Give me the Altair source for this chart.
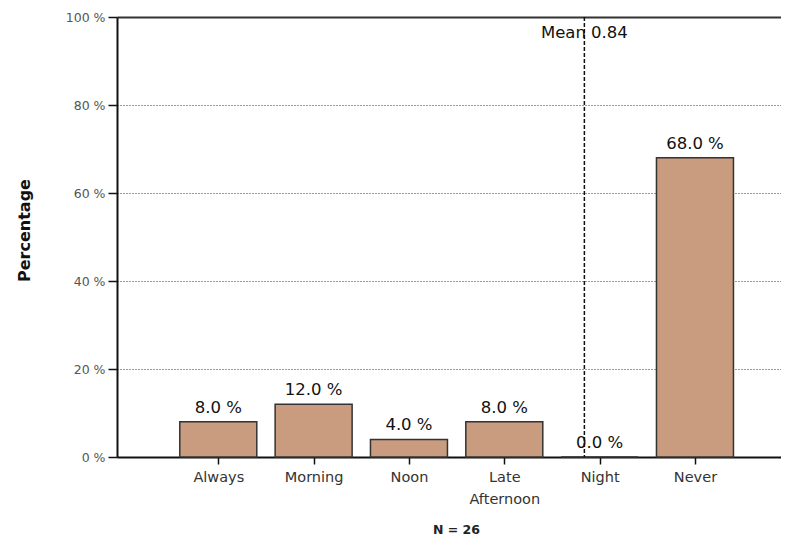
import json
import altair as alt
import pandas as pd

# ---- data ----
categories = ["Always", "Morning", "Noon", "Late Afternoon", "Night", "Never"]
percentages = [8.0, 12.0, 4.0, 8.0, 0.0, 68.0]
y_ticks = [0, 20, 40, 60, 80, 100]
mean_label = "Mean 0.84"
mean_position = 4.84   # on the category axis (categories sit at 1..6)
n_label = "N = 26"

df = pd.DataFrame({
    "category": categories,
    "pos": list(range(1, len(categories) + 1)),
    "pct": percentages,
})
mean_df = pd.DataFrame({"x": [mean_position], "label": [mean_label]})

label_lines = [c.split(" ") for c in categories]
label_expr = json.dumps(label_lines) + "[datum.value - 1]"

FONT = "DejaVu Sans"

x_scale = alt.Scale(domain=[-0.01, 6.85], nice=False, zero=False)
y_scale = alt.Scale(domain=[0, 100], nice=False)

x_axis = alt.Axis(
    values=list(range(1, len(categories) + 1)),
    labelExpr=label_expr,
    labelFont=FONT, labelFontSize=14.5, labelColor="#333333",
    labelLineHeight=22, labelPadding=6, labelBaseline="top",
    tickSize=7, tickColor="#111111", tickWidth=1.5,
    domainColor="#111111", domainWidth=2,
    grid=False,
    title=n_label, titleFont=FONT, titleFontSize=12.5, titleFontWeight="bold",
    titleColor="#222222", titleX=339, titleY=72, titleBaseline="middle",
    titleAnchor="start", titleAlign="center",
)

y_axis = alt.Axis(
    values=y_ticks,
    labelExpr="datum.value + ' %'",
    labelFont=FONT, labelFontSize=12.5, labelColor="#555555", labelPadding=3,
    tickSize=9, tickColor="#111111", tickWidth=1.5,
    domainColor="#111111", domainWidth=2,
    grid=True, gridColor="#333333",
    gridDash={"condition": {"test": "datum.value === 100", "value": [1, 0]}, "value": [1, 2]},
    gridWidth={"condition": {"test": "datum.value === 100", "value": 2}, "value": 1},
    title="Percentage", titleFont=FONT, titleFontSize=16, titleFontWeight="bold",
    titleColor="#111111", titleAngle=270, titleX=-93, titleY=213,
    titleBaseline="middle", titleAlign="center", titleAnchor="start",
)

base = alt.Chart(df)

bars = base.mark_bar(
    size=77, color="#C99B7F", stroke="#333333", strokeWidth=1.5
).encode(
    x=alt.X("pos:Q", scale=x_scale, axis=x_axis),
    y=alt.Y("pct:Q", scale=y_scale, axis=y_axis),
)

labels = base.transform_calculate(
    txt="format(datum.pct, '.1f') + ' %'"
).mark_text(
    font=FONT, fontSize=16.5, color="#111111", baseline="alphabetic", dy=-9
).encode(
    x=alt.X("pos:Q", scale=x_scale),
    y=alt.Y("pct:Q", scale=y_scale),
    text="txt:N",
)

mean_rule = alt.Chart(mean_df).mark_rule(
    color="#111111", strokeWidth=1.5, strokeDash=[4, 2]
).encode(
    x=alt.X("x:Q", scale=x_scale),
)

mean_text = alt.Chart(mean_df).mark_text(
    font=FONT, fontSize=16.5, color="#111111", baseline="middle", align="center"
).encode(
    x=alt.X("x:Q", scale=x_scale),
    y=alt.value(16),
    text="label:N",
)

chart = alt.layer(bars, mean_rule, labels, mean_text).properties(
    width=664, height=440,
    autosize=alt.AutoSizeParams(type="none"),
    padding={"left": 109, "top": 9, "right": 0, "bottom": 80},
    background="white",
).configure_view(stroke=None)

chart.save("out.html", embed_options={"renderer": "svg", "actions": False})
